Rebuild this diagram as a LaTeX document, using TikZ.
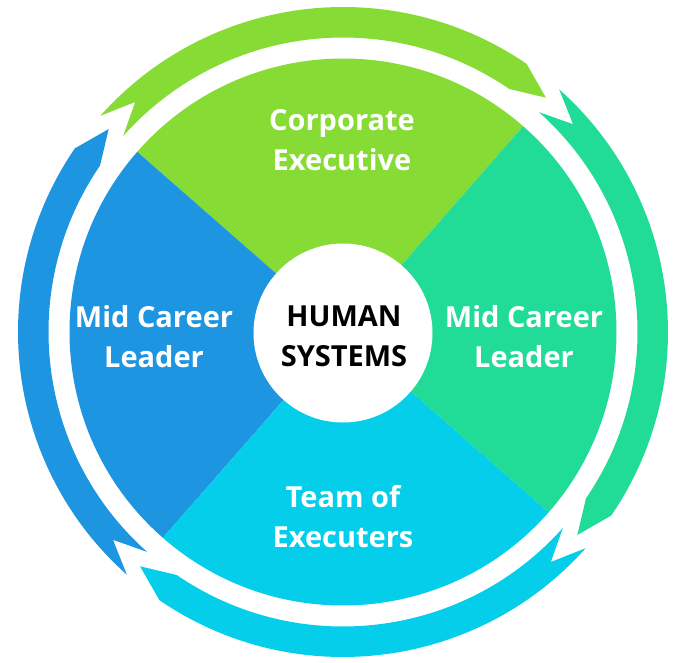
\documentclass[tikz,border=0pt]{standalone}
\usepackage{fontspec}
\setmainfont{Open Sans}
\definecolor{cgreen}{HTML}{86DC34}
\definecolor{cteal}{HTML}{20DC96}
\definecolor{ccyan}{HTML}{05CEEA}
\definecolor{cblue}{HTML}{1E95E0}
% #1 = angle of the tail end, #2 = colour
\newcommand{\ringarrow}[2]{%
  \fill[#2] ({#1-0.5}:325pt) arc[start angle={#1-0.5}, end angle={#1-83.2}, radius=325pt]
    -- ({#1-89.7}:310pt)
    -- ({#1-83.2}:294.5pt) arc[start angle={#1-83.2}, end angle={#1-0.5}, radius=294.5pt]
    -- ({#1-6.7}:310pt) -- cycle;}
\begin{document}
\begin{tikzpicture}[x=1pt,y=1pt,
  lbl/.style={text=white, font=\bfseries\fontsize{29}{40}\selectfont, align=center, inner sep=0pt},
  hubstyle/.style={circle, fill=white, minimum size=179pt, inner sep=0pt}]
\useasboundingbox (-343,-330) rectangle (345,332);
\fill[white] (-343,-330) rectangle (345,332);
% pie sectors
\fill[cgreen] (0,0) -- (48.8:273.5pt) arc[start angle=48.8, end angle=138.8, radius=273.5pt] -- cycle;
\fill[cblue] (0,0) -- (138.8:273.5pt) arc[start angle=138.8, end angle=228.8, radius=273.5pt] -- cycle;
\fill[ccyan] (0,0) -- (228.8:273.5pt) arc[start angle=228.8, end angle=318.8, radius=273.5pt] -- cycle;
\fill[cteal] (0,0) -- (318.8:273.5pt) arc[start angle=318.8, end angle=408.8, radius=273.5pt] -- cycle;
% ring arrows (clockwise)
\ringarrow{138.8}{cgreen}
\ringarrow{48.8}{cteal}
\ringarrow{-41.2}{ccyan}
\ringarrow{-131.2}{cblue}
% hub
\node[hubstyle] (hub) at (0,-1) {};
\node[lbl, text=black] (hubtext) at (1,-4.5) {HUMAN\\SYSTEMS};
% labels
\node[lbl] (corp) at (-1,192) {Corporate\\Executive};
\node[lbl] (midl) at (-189,-4.5) {Mid Career\\Leader};
\node[lbl] (midr) at (181,-4.5) {Mid Career\\Leader};
\node[lbl] (team) at (0,-185) {Team of\\Executers};
\end{tikzpicture}
\end{document}
